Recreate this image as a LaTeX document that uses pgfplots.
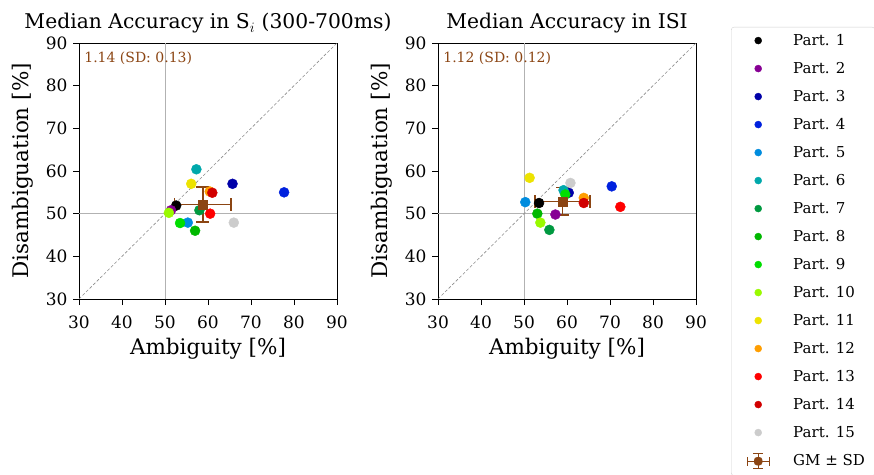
\documentclass[border=0pt]{standalone}
\usepackage{fontspec}
\setmainfont{DejaVu Serif}
\usepackage{pgfplots}
\pgfplotsset{compat=1.18}
\definecolor{p1}{rgb}{0,0,0}
\definecolor{p2}{rgb}{0.53,0.0,0.58}
\definecolor{p3}{rgb}{0.0,0.0,0.66}
\definecolor{p4}{rgb}{0.0,0.13,0.87}
\definecolor{p5}{rgb}{0.0,0.55,0.87}
\definecolor{p6}{rgb}{0.0,0.66,0.67}
\definecolor{p7}{rgb}{0.0,0.6,0.25}
\definecolor{p8}{rgb}{0.0,0.72,0.0}
\definecolor{p9}{rgb}{0.0,0.87,0.0}
\definecolor{p10}{rgb}{0.6,0.98,0.0}
\definecolor{p11}{rgb}{0.93,0.89,0.0}
\definecolor{p12}{rgb}{1.0,0.62,0.0}
\definecolor{p13}{rgb}{1.0,0.0,0.0}
\definecolor{p14}{rgb}{0.82,0.0,0.0}
\definecolor{p15}{rgb}{0.8,0.8,0.8}
\definecolor{gm}{rgb}{0.545,0.271,0.075}
\newcommand{\pp}[3]{\addplot[only marks, mark=*, mark size=5pt, color=#1, mark options={draw=#1, fill=#1}] coordinates {(#2,#3)};}
% GM with SD: #1 x, #2 y, #3 sdx, #4 sdy
\newcommand{\gmbars}[4]{%
  \pgfmathsetmacro{\xl}{#1-#3}\pgfmathsetmacro{\xr}{#1+#3}%
  \pgfmathsetmacro{\yb}{#2-#4}\pgfmathsetmacro{\yt}{#2+#4}%
  \pgfmathsetmacro{\cxl}{#1-1.5}\pgfmathsetmacro{\cxr}{#1+1.5}%
  \pgfmathsetmacro{\cyb}{#2-1.5}\pgfmathsetmacro{\cyt}{#2+1.5}%
  \edef\tmp{\noexpand\addplot[gm, line width=1.5pt, forget plot] coordinates {(\xl,#2) (\xr,#2)};
  \noexpand\addplot[gm, line width=1.5pt, forget plot] coordinates {(#1,\yb) (#1,\yt)};
  \noexpand\addplot[gm, line width=1.5pt, forget plot] coordinates {(\xl,\cyb) (\xl,\cyt)};
  \noexpand\addplot[gm, line width=1.5pt, forget plot] coordinates {(\xr,\cyb) (\xr,\cyt)};
  \noexpand\addplot[gm, line width=1.5pt, forget plot] coordinates {(\cxl,\yb) (\cxr,\yb)};
  \noexpand\addplot[gm, line width=1.5pt, forget plot] coordinates {(\cxl,\yt) (\cxr,\yt)};}%
  \tmp}
\pgfplotsset{
  myax/.style={
    width=258pt, height=256pt, scale only axis,
    xmin=30, xmax=90, ymin=30, ymax=90,
    xtick={30,40,...,90}, ytick={30,40,...,90},
    tick align=outside, tick pos=left,
    major tick length=6pt,
    every tick/.style={black, line width=0.9pt},
    axis line style={line width=0.9pt},
    ticklabel style={font=\fontsize{17}{18}\selectfont},
    xticklabel style={yshift=-7pt},
    yticklabel style={xshift=-2pt},
    /pgf/number format/assume math mode=true,
    xlabel={Ambiguity [\%]}, ylabel={Disambiguation [\%]},
    label style={font=\fontsize{21.5}{22}\selectfont},
    xlabel style={at={(axis description cs:0.5,0)}, anchor=base, yshift=-55pt},
    ylabel style={at={(axis description cs:0,0.5)}, anchor=center, yshift=56pt},
    title style={font=\fontsize{20.3}{21}\selectfont, at={(axis description cs:0.5,1)}, anchor=base, yshift=8pt},
  },
}
\begin{document}
\begin{tikzpicture}
\begin{axis}[myax, at={(79pt,175pt)}, anchor=south west,
  title={Median Accuracy in S$_i$ (300-700ms)}]
\addplot[black!30, line width=0.8pt, forget plot] coordinates {(50,30) (50,90)};
\addplot[black!30, line width=0.8pt, forget plot] coordinates {(30,50) (90,50)};
\addplot[black!45, line width=0.6pt, dash pattern=on 3pt off 2pt, forget plot] coordinates {(30,30) (90,90)};
\pp{p1}{52.6}{51.9}
\pp{p2}{51.4}{50.8}
\pp{p3}{65.7}{57.0}
\pp{p4}{77.7}{55.0}
\pp{p5}{55.3}{47.9}
\pp{p6}{57.3}{60.4}
\pp{p7}{58.0}{50.8}
\pp{p8}{57.0}{46.0}
\pp{p9}{53.5}{47.8}
\pp{p10}{50.9}{50.2}
\pp{p11}{56.1}{57.0}
\pp{p12}{60.4}{55.2}
\pp{p13}{60.5}{50.0}
\pp{p14}{61.0}{54.9}
\pp{p15}{66.0}{47.9}
\gmbars{58.8}{52.2}{6.6}{4.1}
\addplot[only marks, mark=square*, mark size=4.5pt, color=gm] coordinates {(58.8,52.2)};
\node[anchor=north west, text=gm, font=\fontsize{14}{15}\selectfont, inner sep=0pt] at (rel axis cs:0.02,0.965) {1.14 (SD: 0.13)};
\end{axis}
\begin{axis}[myax, at={(438pt,175pt)}, anchor=south west,
  title={Median Accuracy in ISI},
  legend style={at={(1.1357,1.063)}, anchor=north west, draw=black!18, rounded corners=3pt,
    inner xsep=10pt, inner ysep=6pt, row sep=12pt,
    font=\fontsize{15}{16}\selectfont,
    nodes={inner sep=0pt, text height=12pt, text depth=4pt, anchor=base west}},
  legend cell align=left,
  legend image code/.code={\path[draw=none,fill=none] (0pt,0pt) -- (52pt,0pt); \draw[#1, mark size=3.5pt] plot coordinates {(17pt,4.5pt)};}
  ]
\addplot[black!30, line width=0.8pt, forget plot] coordinates {(50,30) (50,90)};
\addplot[black!30, line width=0.8pt, forget plot] coordinates {(30,50) (90,50)};
\addplot[black!45, line width=0.6pt, dash pattern=on 3pt off 2pt, forget plot] coordinates {(30,30) (90,90)};
\pp{p1}{53.5}{52.5}
\pp{p2}{57.3}{49.8}
\pp{p3}{60.4}{54.9}
\pp{p4}{70.4}{56.4}
\pp{p5}{50.3}{52.7}
\pp{p6}{59.2}{55.5}
\pp{p7}{55.9}{46.2}
\pp{p8}{53.1}{50.0}
\pp{p9}{59.6}{54.5}
\pp{p10}{53.8}{47.9}
\pp{p11}{51.3}{58.4}
\pp{p12}{63.9}{53.7}
\pp{p13}{72.4}{51.6}
\pp{p14}{63.9}{52.5}
\pp{p15}{60.8}{57.2}
\gmbars{59.0}{52.9}{6.4}{3.2}
\addplot[only marks, mark=square*, mark size=4.5pt, color=gm,
  legend image code/.code={
  \path[draw=none,fill=none] (0pt,0pt) -- (52pt,0pt);
  \draw[gm, line width=1.3pt] (6pt,4.5pt) -- (28pt,4.5pt) (17pt,-3pt) -- (17pt,12pt);
  \draw[gm, line width=1.3pt] (6pt,0pt) -- (6pt,9pt) (28pt,0pt) -- (28pt,9pt) (12pt,12pt) -- (22pt,12pt) (12pt,-3pt) -- (22pt,-3pt);
  \fill[gm] (13pt,0.5pt) rectangle (21pt,8.5pt);}] coordinates {(59.0,52.9)};
\legend{Part. 1, Part. 2, Part. 3, Part. 4, Part. 5, Part. 6, Part. 7, Part. 8, Part. 9, Part. 10, Part. 11, Part. 12, Part. 13, Part. 14, Part. 15, GM \textpm{} SD}
\node[anchor=north west, text=gm, font=\fontsize{14}{15}\selectfont, inner sep=0pt] at (rel axis cs:0.02,0.965) {1.12 (SD: 0.12)};
\end{axis}
\pgfresetboundingbox
\path[use as bounding box] (0pt,0pt) rectangle (874pt,474pt);
\end{tikzpicture}
\end{document}
